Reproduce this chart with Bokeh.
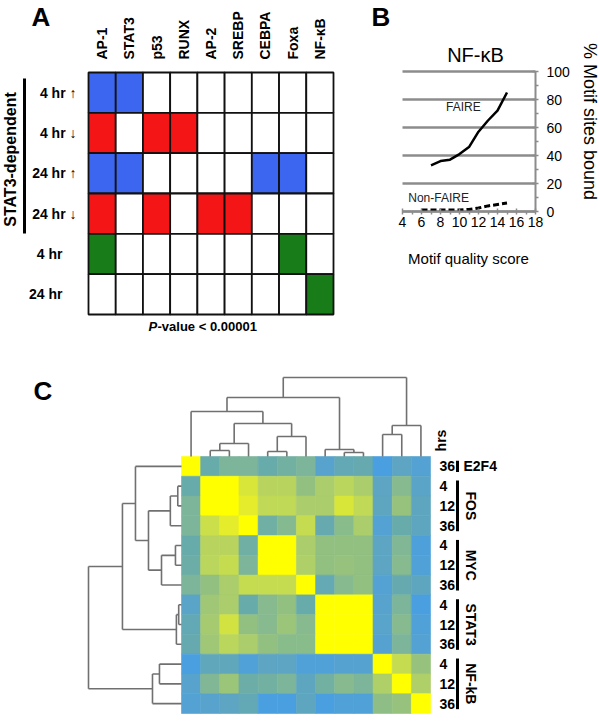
import math
import numpy as np
from bokeh.plotting import figure
from bokeh.layouts import column, row
from bokeh.models import (ColumnDataSource, FixedTicker, LinearAxis, Range1d, LinearColorMapper)
from bokeh.core.properties import value
from bokeh.embed import file_html
from bokeh.resources import INLINE

FONT = "Liberation Sans"

# ---------------- Panel A data ----------------
motifs = ["AP-1", "STAT3", "p53", "RUNX", "AP-2", "SREBP", "CEBPA", "Foxa", "NF-\u03baB"]
conditions = ["4 hr \u2191", "4 hr \u2193", "24 hr \u2191", "24 hr \u2193",
              "4 hr\u2002\u2002", "24 hr\u2002\u2002"]
# 0 = none, 1 = up (blue), 2 = down (red), 3 = STAT3-independent (green)
enrichment = [
    [1, 1, 0, 0, 0, 0, 0, 0, 0],
    [2, 0, 2, 2, 0, 0, 0, 0, 0],
    [1, 1, 0, 0, 0, 0, 1, 1, 0],
    [2, 0, 2, 0, 2, 2, 0, 0, 0],
    [3, 0, 0, 0, 0, 0, 0, 3, 0],
    [0, 0, 0, 0, 0, 0, 0, 0, 3],
]
enrich_colors = {0: "#ffffff", 1: "#3c66f0", 2: "#f41616", 3: "#187c18"}

# ---------------- Panel B data ----------------
score_faire = [7, 8, 9, 10, 11, 12, 13, 14, 15]
pct_faire = [33, 36, 37, 41, 46, 57, 65, 72, 85]
score_nonfaire = [6, 7, 8, 9, 10, 11, 12, 13, 14, 15]
pct_nonfaire = [1, 1, 1, 1, 1, 1.5, 2.5, 4, 5, 6]
b_xticks = [4, 6, 8, 10, 12, 14, 16, 18]
b_xminor = [5, 7, 9, 11, 13, 15, 17]
b_yticks = [0, 20, 40, 60, 80, 100]
b_yminor = [10, 30, 50, 70, 90]

# ---------------- Panel C data ----------------
sample_hours = ["36", "4", "12", "36", "4", "12", "36", "4", "12", "36", "4", "12", "36"]
groups = ["E2F4", "FOS", "MYC", "STAT3", "NF-kB"]
group_first = [0, 1, 4, 7, 10]
group_last = [0, 3, 6, 9, 12]
similarity = [
    [1.00, 0.40, 0.50, 0.50, 0.40, 0.45, 0.50, 0.22, 0.35, 0.38, 0.10, 0.28, 0.18],
    [0.40, 1.00, 1.00, 0.86, 0.75, 0.75, 0.60, 0.70, 0.76, 0.70, 0.28, 0.55, 0.25],
    [0.50, 1.00, 1.00, 0.90, 0.78, 0.78, 0.70, 0.70, 0.86, 0.78, 0.30, 0.62, 0.30],
    [0.50, 0.82, 0.90, 1.00, 0.44, 0.54, 0.80, 0.38, 0.56, 0.70, 0.18, 0.40, 0.30],
    [0.40, 0.75, 0.75, 0.44, 1.00, 1.00, 0.70, 0.60, 0.60, 0.60, 0.28, 0.52, 0.14],
    [0.42, 0.76, 0.80, 0.50, 1.00, 1.00, 0.72, 0.60, 0.62, 0.60, 0.28, 0.55, 0.15],
    [0.50, 0.60, 0.70, 0.80, 0.80, 0.80, 1.00, 0.36, 0.55, 0.60, 0.18, 0.38, 0.30],
    [0.25, 0.66, 0.70, 0.40, 0.55, 0.60, 0.40, 1.00, 1.00, 1.00, 0.22, 0.50, 0.10],
    [0.35, 0.68, 0.84, 0.60, 0.55, 0.64, 0.55, 1.00, 1.00, 1.00, 0.24, 0.55, 0.15],
    [0.38, 0.66, 0.76, 0.70, 0.60, 0.56, 0.56, 1.00, 1.00, 1.00, 0.20, 0.50, 0.18],
    [0.10, 0.32, 0.32, 0.16, 0.28, 0.28, 0.16, 0.16, 0.20, 0.20, 1.00, 0.80, 0.62],
    [0.22, 0.52, 0.64, 0.42, 0.45, 0.50, 0.30, 0.45, 0.55, 0.50, 0.72, 1.00, 0.72],
    [0.18, 0.22, 0.28, 0.35, 0.10, 0.10, 0.30, 0.10, 0.15, 0.15, 0.58, 0.62, 1.00],
]
# dendrogram merges: (child_a, child_b, height); new node ids continue after the 13 leaves
row_merges = [(1, 2, 0.04), (13, 3, 0.12), (4, 5, 0.065), (15, 6, 0.215), (14, 16, 0.355),
              (0, 17, 0.495), (7, 8, 0.03), (19, 9, 0.055), (18, 20, 0.635),
              (10, 11, 0.237), (22, 12, 0.312), (21, 23, 1.0)]
col_merges = [(1, 2, 0.076), (13, 3, 0.165), (4, 5, 0.063), (15, 6, 0.253), (14, 16, 0.418),
              (0, 17, 0.57), (8, 9, 0.05), (7, 19, 0.089), (18, 20, 0.747),
              (10, 11, 0.278), (22, 12, 0.392), (21, 23, 1.0)]


# ---------------- layout helpers (pixel <-> data) ----------------
class PxMap:
    """linear map: data d0 sits at pixel p0, data d1 at pixel p1 (pixels of the figure)."""
    def __init__(self, d0, p0, d1, p1):
        self.d0, self.p0 = d0, p0
        self.k = (p1 - p0) / (d1 - d0)

    def inv(self, px):
        return self.d0 + (px - self.p0) / self.k


def x_range_for(m, size):
    return Range1d(m.inv(0), m.inv(size))


def y_range_for(m, size):
    return Range1d(m.inv(size), m.inv(0))


def base_fig(w, h, xr, yr):
    p = figure(width=w, height=h, x_range=xr, y_range=yr, output_backend="svg",
               toolbar_location=None, x_axis_location=None, y_axis_location=None,
               min_border=0)
    p.min_border_left = p.min_border_right = p.min_border_top = p.min_border_bottom = 0
    p.grid.visible = False
    p.outline_line_color = None
    p.title.visible = False
    p.background_fill_color = "white"
    p.border_fill_color = "white"
    return p


def txt(p, x, y, s, size, style="normal", align="center", baseline="middle", angle=0.0,
        color="black"):
    p.text(x=[x], y=[y], text=[s], angle=angle, text_font=value(FONT),
           text_font_size=size, text_font_style=style, text_align=align,
           text_baseline=baseline, text_color=color)


# =============== Panel A ===============
WA, HA = 340, 372
mxA = PxMap(0, 88, 9, 333)
myA = PxMap(0, 72, 6, 314)
pA = base_fig(WA, HA, x_range_for(mxA, WA), y_range_for(myA, HA))

ax_top = LinearAxis(ticker=FixedTicker(ticks=[i + 0.5 for i in range(len(motifs))], minor_ticks=[]),
                    major_label_overrides={i + 0.5: m for i, m in enumerate(motifs)},
                    major_label_orientation=math.pi / 2, fixed_location=0,
                    axis_line_color=None, major_tick_line_color=None, minor_tick_line_color=None,
                    major_label_text_font=FONT, major_label_text_font_style="bold",
                    major_label_text_font_size="14px", major_label_text_color="black",
                    major_label_standoff=7)
pA.add_layout(ax_top, "above")
ax_left = LinearAxis(ticker=FixedTicker(ticks=[i + 0.5 for i in range(len(conditions))], minor_ticks=[]),
                     major_label_overrides={i + 0.5: c for i, c in enumerate(conditions)},
                     fixed_location=0,
                     axis_line_color=None, major_tick_line_color=None, minor_tick_line_color=None,
                     major_label_text_font=FONT, major_label_text_font_style="bold",
                     major_label_text_font_size="14px", major_label_text_color="black",
                     major_label_standoff=6)
pA.add_layout(ax_left, "left")

ax_, ay_, ac_ = [], [], []
for r, vals in enumerate(enrichment):
    for c, v in enumerate(vals):
        ax_.append(c + 0.5)
        ay_.append(r + 0.5)
        ac_.append(enrich_colors[v])
pA.rect(x=ax_, y=ay_, width=1, height=1, fill_color=ac_, line_color="#111111", line_width=1.8)

txt(pA, mxA.inv(31), myA.inv(1), "A", "26px", "bold", "left", "top")
txt(pA, mxA.inv(10), myA.inv(159), "STAT3-dependent", "16px", "bold", angle=math.pi / 2)
pA.segment(x0=[mxA.inv(24)], y0=[myA.inv(78)], x1=[mxA.inv(24)], y1=[myA.inv(233)],
           line_color="black", line_width=3)
txt(pA, mxA.inv(148), myA.inv(326), "P", "13px", "bold italic", "left")
txt(pA, mxA.inv(157), myA.inv(326), "-value < 0.00001", "13px", "bold", "left")

# =============== Panel B ===============
WB, HB = 260, 372
X0B = 340
mxB = PxMap(4, 402 - X0B, 18, 535 - X0B)
myB = PxMap(0, 211, 100, 71)
pB = base_fig(WB, HB, x_range_for(mxB, WB), y_range_for(myB, HB))

# horizontal gridlines between the x bounds
pB.segment(x0=[b_xticks[0]] * len(b_yticks), y0=b_yticks,
           x1=[b_xticks[-1]] * len(b_yticks), y1=b_yticks,
           line_color="#8c8c8c", line_width=2.5)

ax_bot = LinearAxis(ticker=FixedTicker(ticks=b_xticks, minor_ticks=b_xminor), fixed_location=0,
                    bounds=(4, 18))
pB.add_layout(ax_bot, "below")
ax_rt = LinearAxis(ticker=FixedTicker(ticks=b_yticks, minor_ticks=b_yminor), fixed_location=18,
                   bounds=(0, 100))
pB.add_layout(ax_rt, "right")
for axis in (ax_bot, ax_rt):
    axis.axis_line_color = "#8c8c8c"
    axis.axis_line_width = 2
    axis.major_tick_line_color = "#8c8c8c"
    axis.minor_tick_line_color = "#8c8c8c"
    axis.major_tick_line_width = 1.5
    axis.minor_tick_line_width = 1.5
    axis.major_tick_in = 3
    axis.major_tick_out = 3
    axis.minor_tick_in = 0
    axis.minor_tick_out = 3
    axis.major_label_text_font = FONT
    axis.major_label_text_font_size = "14px"
    axis.major_label_text_color = "black"
ax_bot.major_label_standoff = 2
ax_rt.major_label_standoff = 8

pB.line(score_faire, pct_faire, line_color="black", line_width=2.5)
pB.line(score_nonfaire, pct_nonfaire, line_color="black", line_width=3, line_dash="6 3")
txt(pB, 10.4, 75, "FAIRE", "12px", color="#222222")
txt(pB, 7.8, 10, "Non-FAIRE", "12px", color="#222222")
txt(pB, mxB.inv(475 - X0B), myB.inv(54), "NF-\u03baB", "20px")
txt(pB, mxB.inv(371 - X0B), myB.inv(1), "B", "26px", "bold", "left", "top")
txt(pB, mxB.inv(468 - X0B), myB.inv(258), "Motif quality score", "15px")
txt(pB, mxB.inv(589 - X0B), myB.inv(121), "% Motif sites bound", "18px", angle=-math.pi / 2)

# =============== Panel C ===============
WC, HC = 600, 346
Y0C = 372
n = len(sample_hours)
mxC = PxMap(0, 181, n, 430)
myC = PxMap(0, 713 - Y0C, n, 456 - Y0C)
pC = base_fig(WC, HC, x_range_for(mxC, WC), y_range_for(myC, HC))
H_LEFT = (181 - 88) / 19.154   # depth of the row dendrogram, in cells
H_TOP = (456 - 377) / 19.77     # depth of the column dendrogram, in cells

anchors = [(0.0, "#489de2"), (0.1, "#4a9fe0"), (0.25, "#5aa4c8"), (0.4, "#68abab"),
           (0.5, "#7cb59a"), (0.6, "#92c081"), (0.72, "#afcf68"), (0.82, "#cbdf4a"),
           (0.9, "#e4ec2c"), (1.0, "#ffff00")]
pos = [a[0] for a in anchors]
rgb = np.array([[int(h[i:i + 2], 16) for i in (1, 3, 5)] for _, h in anchors], dtype=float)
tt = np.linspace(0, 1, 256)
palette = ["#%02x%02x%02x" % tuple(int(round(np.interp(t, pos, rgb[:, k]))) for k in range(3))
           for t in tt]
mapper = LinearColorMapper(palette=palette, low=0, high=1)

hx, hy, hv = [], [], []
for r in range(n):
    for c in range(n):
        hx.append(c + 0.5)
        hy.append(n - 0.5 - r)
        hv.append(similarity[r][c])
src = ColumnDataSource(dict(x=hx, y=hy, v=hv))
pC.rect(x="x", y="y", width=1, height=1, source=src,
        fill_color={"field": "v", "transform": mapper},
        line_color={"field": "v", "transform": mapper}, line_width=0.6)


def dendro_segments(merges, leaf_pos):
    posd = {i: p for i, p in enumerate(leaf_pos)}
    hgt = {i: 0.0 for i in range(len(leaf_pos))}
    segs = []
    nid = len(leaf_pos)
    for a, b, h in merges:
        segs.append((posd[a], hgt[a], posd[a], h))
        segs.append((posd[b], hgt[b], posd[b], h))
        segs.append((posd[a], h, posd[b], h))
        posd[nid] = (posd[a] + posd[b]) / 2
        hgt[nid] = h
        nid += 1
    return segs


rsegs = dendro_segments(row_merges, [n - 0.5 - i for i in range(n)])
pC.segment(x0=[-s[1] * H_LEFT for s in rsegs], y0=[s[0] for s in rsegs],
           x1=[-s[3] * H_LEFT for s in rsegs], y1=[s[2] for s in rsegs],
           line_color="#707070", line_width=1.6)
csegs = dendro_segments(col_merges, [i + 0.5 for i in range(n)])
pC.segment(x0=[s[0] for s in csegs], y0=[n + s[1] * H_TOP for s in csegs],
           x1=[s[2] for s in csegs], y1=[n + s[3] * H_TOP for s in csegs],
           line_color="#707070", line_width=1.6)

ax_hr = LinearAxis(ticker=FixedTicker(ticks=[n - 0.5 - i for i in range(n)], minor_ticks=[]),
                   major_label_overrides={n - 0.5 - i: h for i, h in enumerate(sample_hours)},
                   fixed_location=n,
                   axis_line_color=None, major_tick_line_color=None, minor_tick_line_color=None,
                   major_label_text_font=FONT, major_label_text_font_style="bold",
                   major_label_text_font_size="14px", major_label_text_color="black",
                   major_label_standoff=3)
pC.add_layout(ax_hr, "right")

txt(pC, mxC.inv(440), myC.inv(440 - Y0C), "hrs", "14px", "bold", angle=math.pi / 2)
bar_x = mxC.inv(457)
bx0, by0, bx1, by1 = [], [], [], []
for g, a, b in zip(groups, group_first, group_last):
    top = n - a - 0.22
    bot = n - b - 1 + 0.22
    bx0.append(bar_x); by0.append(top); bx1.append(bar_x); by1.append(bot)
    if a == b:
        txt(pC, mxC.inv(463), (top + bot) / 2, g, "14px", "bold", "left")
    else:
        txt(pC, mxC.inv(470), (top + bot) / 2, g, "14px", "bold", angle=-math.pi / 2)
pC.segment(x0=bx0, y0=by0, x1=bx1, y1=by1, line_color="black", line_width=3)
txt(pC, mxC.inv(33), myC.inv(375 - Y0C), "C", "26px", "bold", "left", "top")

layout = column(row(pA, pB), pC)
open("out.html", "w").write(file_html(layout, INLINE))
